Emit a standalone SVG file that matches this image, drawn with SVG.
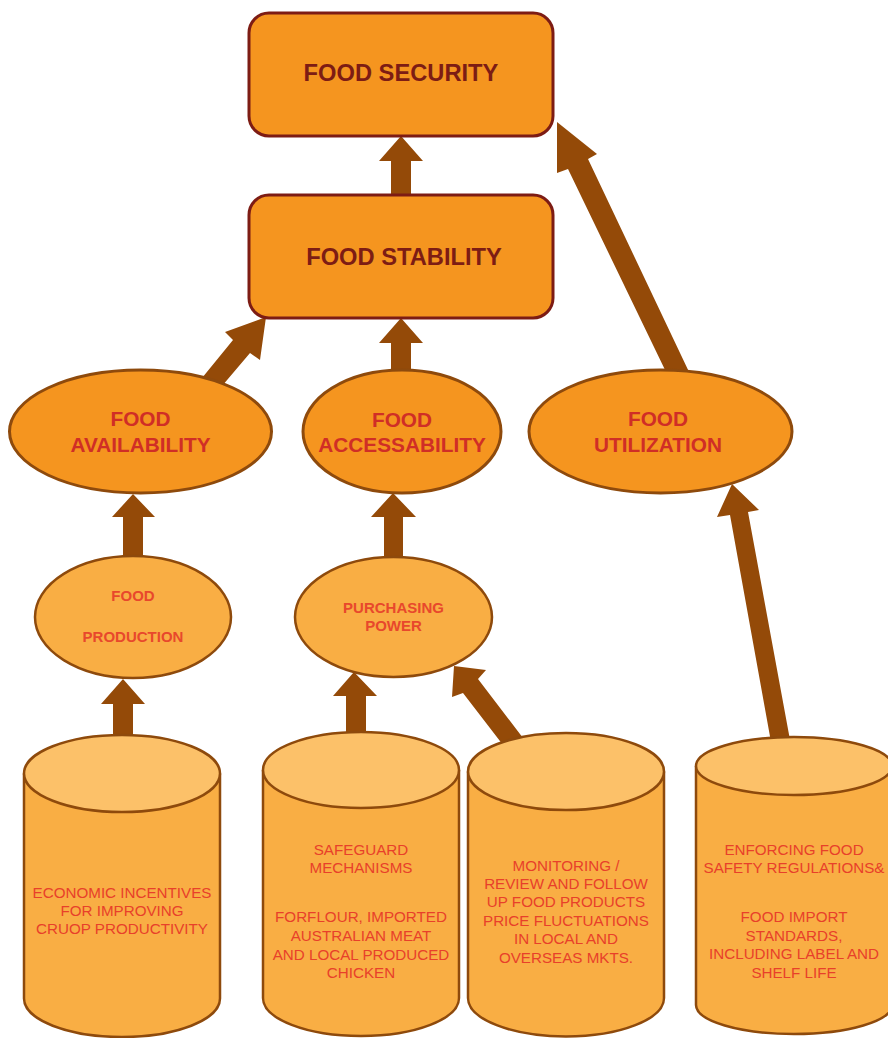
<svg xmlns="http://www.w3.org/2000/svg" width="888" height="1038" viewBox="0 0 888 1038">
<style>
.box{fill:#f5951f;stroke:#7d1c14;stroke-width:3}
.big{fill:#f5951f;stroke:#8e4a0c;stroke-width:3}
.small{fill:#f9ae44;stroke:#8e4a0c;stroke-width:2.5}
.body{fill:#f9ae44;stroke:#8e4a0c;stroke-width:2.5}
.top{fill:#fcc169;stroke:#8e4a0c;stroke-width:2.5}
.arrow{fill:#944a08}
.tbox{font-family:"Liberation Sans",Arial,sans-serif;font-weight:bold;font-size:23.7px;fill:#7d1c14;text-anchor:middle}
.tbig{font-family:"Liberation Sans",Arial,sans-serif;font-weight:bold;font-size:20.8px;fill:#d02e26;text-anchor:middle}
.tsmall{font-family:"Liberation Sans",Arial,sans-serif;font-weight:bold;font-size:15px;fill:#e8482c;text-anchor:middle}
.tcyl{font-family:"Liberation Sans",Arial,sans-serif;font-size:15.2px;fill:#e8402a;text-anchor:middle}
</style>
<g id="connectors">
<polygon class="arrow" points="401,136 423,161 411,161 411,196 391,196 391,161 379,161"/>
<polygon class="arrow" points="401,318 423,343 411,343 411,372 391,372 391,343 379,343"/>
<polygon class="arrow" points="266,317 260,360 250,353 222,386 202,378 233,340 225,332"/>
<polygon class="arrow" points="557,122 597,154 588,159 690,374 667,374 568,169 557,173"/>
<polygon class="arrow" points="133,494 155,517 143,517 143,558 123,558 123,517 112,517"/>
<polygon class="arrow" points="393,493 416,517 403,517 403,558 384,558 384,517 371,517"/>
<polygon class="arrow" points="732,484 759,510 748,512 790,740 771,742 730,515 717,517"/>
<polygon class="arrow" points="123,679 145,704 133,704 133,738 113,738 113,704 101,704"/>
<polygon class="arrow" points="354,672 377,696 366,696 366,735 346,735 346,696 333,696"/>
<polygon class="arrow" points="454,666 486,670 478,679 523,738 503,745 463,693 452,697"/>
</g>
<g id="food-security">
<rect class="box" x="249" y="13" width="304" height="123" rx="20"/>
<text class="tbox" x="401" y="81">FOOD SECURITY</text>
</g>
<g id="food-stability">
<rect class="box" x="249" y="195" width="304" height="123" rx="20"/>
<text class="tbox" x="404" y="265">FOOD STABILITY</text>
</g>
<g id="food-availability">
<ellipse class="big" cx="140.5" cy="431.5" rx="131" ry="61.5"/>
<text class="tbig" x="140.5" y="426">FOOD</text>
<text class="tbig" x="140.5" y="452">AVAILABILITY</text>
</g>
<g id="food-accessability">
<ellipse class="big" cx="402" cy="431.5" rx="99" ry="61.5"/>
<text class="tbig" x="402" y="427">FOOD</text>
<text class="tbig" x="402" y="452">ACCESSABILITY</text>
</g>
<g id="food-utilization">
<ellipse class="big" cx="660.5" cy="431.5" rx="131.5" ry="61.5"/>
<text class="tbig" x="658" y="426">FOOD</text>
<text class="tbig" x="658" y="452">UTILIZATION</text>
</g>
<g id="food-production">
<ellipse class="small" cx="133" cy="617" rx="98" ry="61"/>
<text class="tsmall" x="133" y="601">FOOD</text>
<text class="tsmall" x="133" y="642">PRODUCTION</text>
</g>
<g id="purchasing-power">
<ellipse class="small" cx="393.5" cy="617" rx="98.5" ry="60"/>
<text class="tsmall" x="393.5" y="613">PURCHASING</text>
<text class="tsmall" x="393.5" y="631">POWER</text>
</g>
<g id="economic-incentives">
<path class="body" d="M24,773.5 V998.5 A98,38.5 0 0 0 220,998.5 V773.5"/>
<ellipse class="top" cx="122" cy="773.5" rx="98" ry="38.5"/>
<text class="tcyl" x="122" y="898">ECONOMIC INCENTIVES</text>
<text class="tcyl" x="122" y="916">FOR IMPROVING</text>
<text class="tcyl" x="122" y="934">CRUOP PRODUCTIVITY</text>
</g>
<g id="safeguard">
<path class="body" d="M263,770 V998 A98,38 0 0 0 459,998 V770"/>
<ellipse class="top" cx="361" cy="770" rx="98" ry="38"/>
<text class="tcyl" x="361" y="855">SAFEGUARD</text>
<text class="tcyl" x="361" y="873">MECHANISMS</text>
<text class="tcyl" x="361" y="922">FORFLOUR, IMPORTED</text>
<text class="tcyl" x="361" y="941">AUSTRALIAN MEAT</text>
<text class="tcyl" x="361" y="960">AND LOCAL PRODUCED</text>
<text class="tcyl" x="361" y="978">CHICKEN</text>
</g>
<g id="monitoring">
<path class="body" d="M468,771.5 V998 A98,38.5 0 0 0 664,998 V771.5"/>
<ellipse class="top" cx="566" cy="771.5" rx="98" ry="38.5"/>
<text class="tcyl" x="566" y="871">MONITORING /</text>
<text class="tcyl" x="566" y="889">REVIEW AND FOLLOW</text>
<text class="tcyl" x="566" y="907">UP FOOD PRODUCTS</text>
<text class="tcyl" x="566" y="926">PRICE FLUCTUATIONS</text>
<text class="tcyl" x="566" y="944">IN LOCAL AND</text>
<text class="tcyl" x="566" y="963">OVERSEAS MKTS.</text>
</g>
<g id="enforcing">
<path class="body" d="M696,766 V1005 A98,29 0 0 0 892,1005 V766"/>
<ellipse class="top" cx="794" cy="766" rx="98" ry="29"/>
<text class="tcyl" x="794" y="855">ENFORCING FOOD</text>
<text class="tcyl" x="794" y="873">SAFETY REGULATIONS&amp;</text>
<text class="tcyl" x="794" y="922">FOOD IMPORT</text>
<text class="tcyl" x="794" y="941">STANDARDS,</text>
<text class="tcyl" x="794" y="959">INCLUDING LABEL AND</text>
<text class="tcyl" x="794" y="978">SHELF LIFE</text>
</g>
</svg>
